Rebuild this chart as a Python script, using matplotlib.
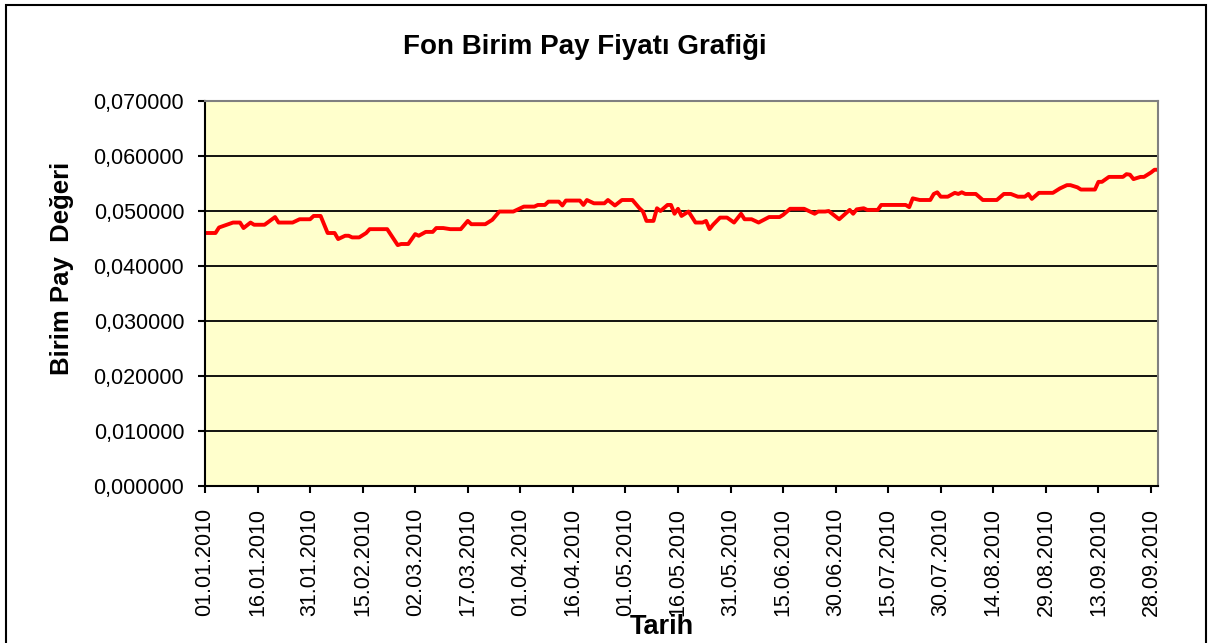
import datetime as dt
import numpy as np
import matplotlib
matplotlib.use("Agg")
import matplotlib.pyplot as plt
from matplotlib.patches import Rectangle

plt.rcParams['font.family'] = ['Liberation Sans', 'DejaVu Sans']

# fund unit price (dates as dd.mm of 2010)
dates = ["01.01", "04.01", "05.01", "09.01", "11.01", "12.01", "14.01", "15.01",
         "18.01", "21.01", "22.01", "26.01", "28.01", "31.01", "01.02", "03.02",
         "05.02", "07.02", "08.02", "10.02", "11.02", "12.02", "14.02", "16.02",
         "17.02", "22.02", "25.02", "26.02", "28.02", "02.03", "03.03", "05.03",
         "07.03", "08.03", "10.03", "12.03", "15.03", "17.03", "18.03", "22.03",
         "24.03", "26.03", "30.03", "31.03", "02.04", "05.04", "06.04", "08.04",
         "09.04", "12.04", "13.04", "14.04", "18.04", "19.04", "20.04", "22.04",
         "25.04", "26.04", "28.04", "30.04", "03.05", "05.05", "06.05", "07.05",
         "09.05", "10.05", "11.05", "13.05", "14.05", "15.05", "16.05", "17.05",
         "19.05", "21.05", "23.05", "24.05", "25.05", "26.05", "28.05", "30.05",
         "01.06", "03.06", "04.06", "06.06", "08.06", "11.06", "14.06", "15.06",
         "17.06", "21.06", "24.06", "25.06", "27.06", "28.06", "01.07", "04.07",
         "05.07", "06.07", "08.07", "09.07", "12.07", "13.07", "20.07", "21.07",
         "22.07", "24.07", "27.07", "28.07", "29.07", "30.07", "01.08", "03.08",
         "04.08", "05.08", "06.08", "09.08", "11.08", "15.08", "17.08", "19.08",
         "21.08", "23.08", "24.08", "25.08", "27.08", "31.08", "02.09", "04.09",
         "05.09", "07.09", "08.09", "12.09", "13.09", "14.09", "16.09", "20.09",
         "21.09", "22.09", "23.09", "25.09", "26.09", "28.09", "29.09", "30.09"]
prices = [0.0460, 0.0460, 0.0470, 0.0479, 0.0479, 0.0469, 0.0479, 0.0475,
          0.0475, 0.0489, 0.0479, 0.0479, 0.0485, 0.0485, 0.0491, 0.0491,
          0.0460, 0.0460, 0.0449, 0.0455, 0.0455, 0.0452, 0.0452, 0.0460,
          0.0467, 0.0467, 0.0438, 0.0440, 0.0440, 0.0458, 0.0455, 0.0462,
          0.0462, 0.0469, 0.0469, 0.0467, 0.0467, 0.0482, 0.0476, 0.0476,
          0.0484, 0.0499, 0.0499, 0.0502, 0.0508, 0.0508, 0.0511, 0.0511,
          0.0517, 0.0517, 0.0510, 0.0519, 0.0519, 0.0511, 0.0520, 0.0514,
          0.0514, 0.0520, 0.0510, 0.0520, 0.0520, 0.0505, 0.0499, 0.0482,
          0.0482, 0.0505, 0.0500, 0.0511, 0.0511, 0.0495, 0.0504, 0.0491,
          0.0499, 0.0479, 0.0479, 0.0482, 0.0467, 0.0475, 0.0488, 0.0488,
          0.0479, 0.0495, 0.0485, 0.0485, 0.0479, 0.0489, 0.0489, 0.0493,
          0.0504, 0.0504, 0.0495, 0.0499, 0.0499, 0.0500, 0.0485, 0.0502,
          0.0495, 0.0503, 0.0505, 0.0502, 0.0502, 0.0511, 0.0511, 0.0507,
          0.0523, 0.0520, 0.0520, 0.0531, 0.0534, 0.0526, 0.0526, 0.0533,
          0.0531, 0.0534, 0.0531, 0.0531, 0.0520, 0.0520, 0.0531, 0.0531,
          0.0526, 0.0526, 0.0531, 0.0522, 0.0533, 0.0533, 0.0541, 0.0547,
          0.0547, 0.0543, 0.0539, 0.0539, 0.0553, 0.0553, 0.0562, 0.0562,
          0.0567, 0.0566, 0.0558, 0.0562, 0.0562, 0.0570, 0.0575, 0.0575]

x = [dt.datetime.strptime(d + ".2010", "%d.%m.%Y") for d in dates]
start = dt.datetime(2010, 1, 1)
end = dt.datetime(2010, 9, 30)
tick_dates = [start + dt.timedelta(days=15 * i) for i in range(19)]

fig = plt.figure(figsize=(12.1, 6.43), dpi=100)
fig.patches.append(Rectangle((6 / 1210, -0.01), 1200 / 1210, 1.0 - 5 / 643 + 0.01,
                             transform=fig.transFigure, fill=False,
                             edgecolor='black', linewidth=1.5))

ax = fig.add_axes([205 / 1210, 1 - 486 / 643, 953 / 1210, 385 / 643])
ax.set_facecolor('#FFFFCC')
ax.plot(x, prices, color='#FF0000', linewidth=2.8, solid_joinstyle='round')

ax.set_xlim(start, end)
ax.set_ylim(0, 0.07)
ax.set_yticks(np.arange(0, 0.0701, 0.01))
ax.set_yticklabels([f"{v:.6f}".replace('.', ',') for v in np.arange(0, 0.0701, 0.01)],
                   fontsize=15.5)
ax.set_xticks(tick_dates)
ax.set_xticklabels([d.strftime("%d.%m.%Y") for d in tick_dates], rotation=90,
                   fontsize=15.5)
ax.grid(axis='y', color='black', linewidth=1.3)
ax.set_axisbelow(True)
ax.tick_params(direction='out', length=5, width=1.5, color='black')
ax.tick_params(axis='x', pad=11)
ax.tick_params(axis='y', pad=10)

ax.spines['left'].set_linewidth(1.5)
ax.spines['bottom'].set_linewidth(1.5)
ax.spines['top'].set_color('#808080')
ax.spines['right'].set_color('#808080')
ax.spines['top'].set_linewidth(1.5)
ax.spines['right'].set_linewidth(1.5)

fig.text(585 / 1210, 1 - 47 / 643, "Fon Birim Pay Fiyatı Grafiği", ha='center', va='center',
         fontsize=20, fontweight='bold')
fig.text(62 / 1210, 1 - 268 / 643, "Birim Pay  Değeri", ha='center', va='center',
         rotation=90, fontsize=18.5, fontweight='bold')
fig.text(662 / 1210, 1 - 627 / 643, "Tarih", ha='center', va='center',
         fontsize=19.5, fontweight='bold')

fig.savefig("out.png", dpi=100)
